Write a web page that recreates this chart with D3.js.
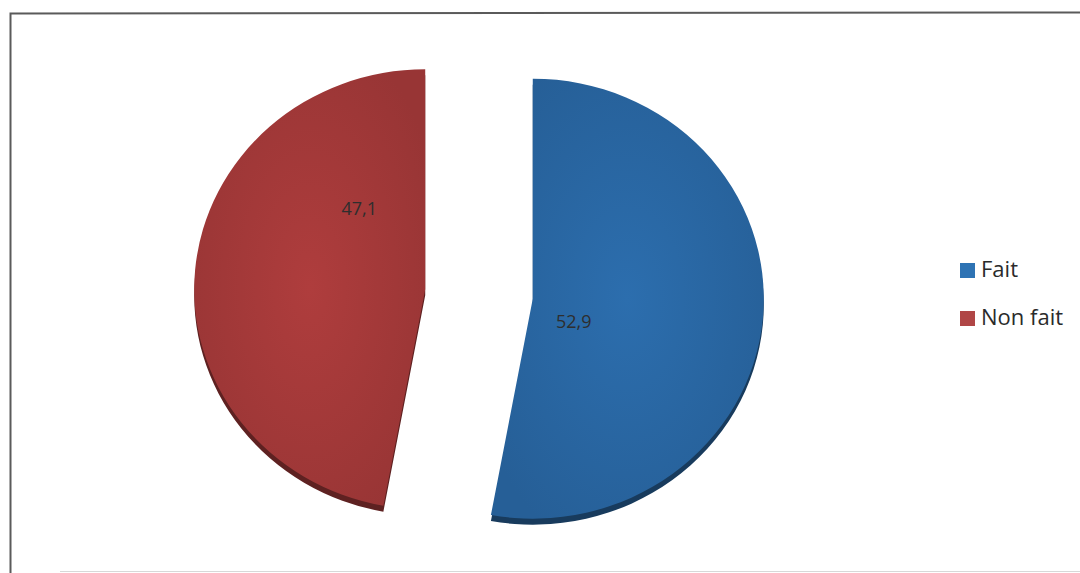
<!DOCTYPE html>
<html><head><meta charset="utf-8">
<script src="https://cdn.jsdelivr.net/npm/d3@7"></script>
<style>body{margin:0;background:#fff}svg{display:block}</style>
</head><body>
<svg id="c" width="1080" height="573"></svg>
<script>
const categories = ["Fait", "Non fait"];
const values = [52.9, 47.1];
const labels = ["52,9", "47,1"];
const colors = ["#2a68a5", "#a63a3a"];
const legendColors = ["#2e73b4", "#b04646"];

const svg = d3.select("#c");
const W = 1080, H = 573;

// frame
svg.append("path").attr("d", `M10.5,${H} L10.5,13.5 L${W},12.5`)
  .attr("fill", "none").attr("stroke", "#5a5a5a").attr("stroke-width", 2);
svg.append("line").attr("x1", 60).attr("x2", W).attr("y1", 571.5).attr("y2", 571.5)
  .attr("stroke", "#d8d8d8").attr("stroke-width", 1);

const cx = 479, cy = 294, rx = 231, ry = 220, explode = 54, depth = 6;
const pie = d3.pie().sort(null).startAngle(0).endAngle(2 * Math.PI);
const arcs = pie(values);
const arc = d3.arc().innerRadius(0).outerRadius(rx);

const defs = svg.append("defs");
colors.forEach((c, i) => {
  const g = defs.append("radialGradient").attr("id", "g" + i)
    .attr("cx", "50%").attr("cy", "50%").attr("r", "60%");
  g.append("stop").attr("offset", "0%").attr("stop-color", d3.color(c).brighter(0.15));
  g.append("stop").attr("offset", "100%").attr("stop-color", d3.color(c).darker(0.25));
});

const root = svg.append("g").attr("transform", `translate(${cx},${cy})`);
const labelOffsets = [[41, 22], [-66, -81]];

arcs.forEach((a, i) => {
  const mid = (a.startAngle + a.endAngle) / 2;
  const dx = explode * Math.sin(mid), dy = -explode * Math.cos(mid) * ry / rx;
  const g = root.append("g").attr("transform", `translate(${dx},${dy})`);
  // depth / shadow
  g.append("path").attr("d", arc(a))
    .attr("transform", `translate(0,${depth}) scale(1,${ry / rx})`)
    .attr("fill", d3.color(colors[i]).darker(1.6));
  g.append("path").attr("d", arc(a))
    .attr("transform", `scale(1,${ry / rx})`)
    .attr("fill", `url(#g${i})`);
  g.append("text").attr("x", labelOffsets[i][0]).attr("y", labelOffsets[i][1])
    .attr("text-anchor", "middle").attr("dominant-baseline", "central")
    .attr("font-family", "'Open Sans', 'Noto Sans', sans-serif")
    .attr("font-size", 18).attr("fill", "#2e2e2e").text(labels[i]);
});

// legend
const leg = svg.append("g");
categories.forEach((c, i) => {
  const base = 277 + i * 48;
  leg.append("rect").attr("x", 960).attr("y", base - 14).attr("width", 15).attr("height", 15)
    .attr("fill", legendColors[i]);
  leg.append("text").attr("x", 981).attr("y", base)
    .attr("font-family", "'Open Sans', 'Noto Sans', sans-serif")
    .attr("font-size", 22).attr("fill", "#2a2a2a").text(c);
});
</script>
</body></html>
